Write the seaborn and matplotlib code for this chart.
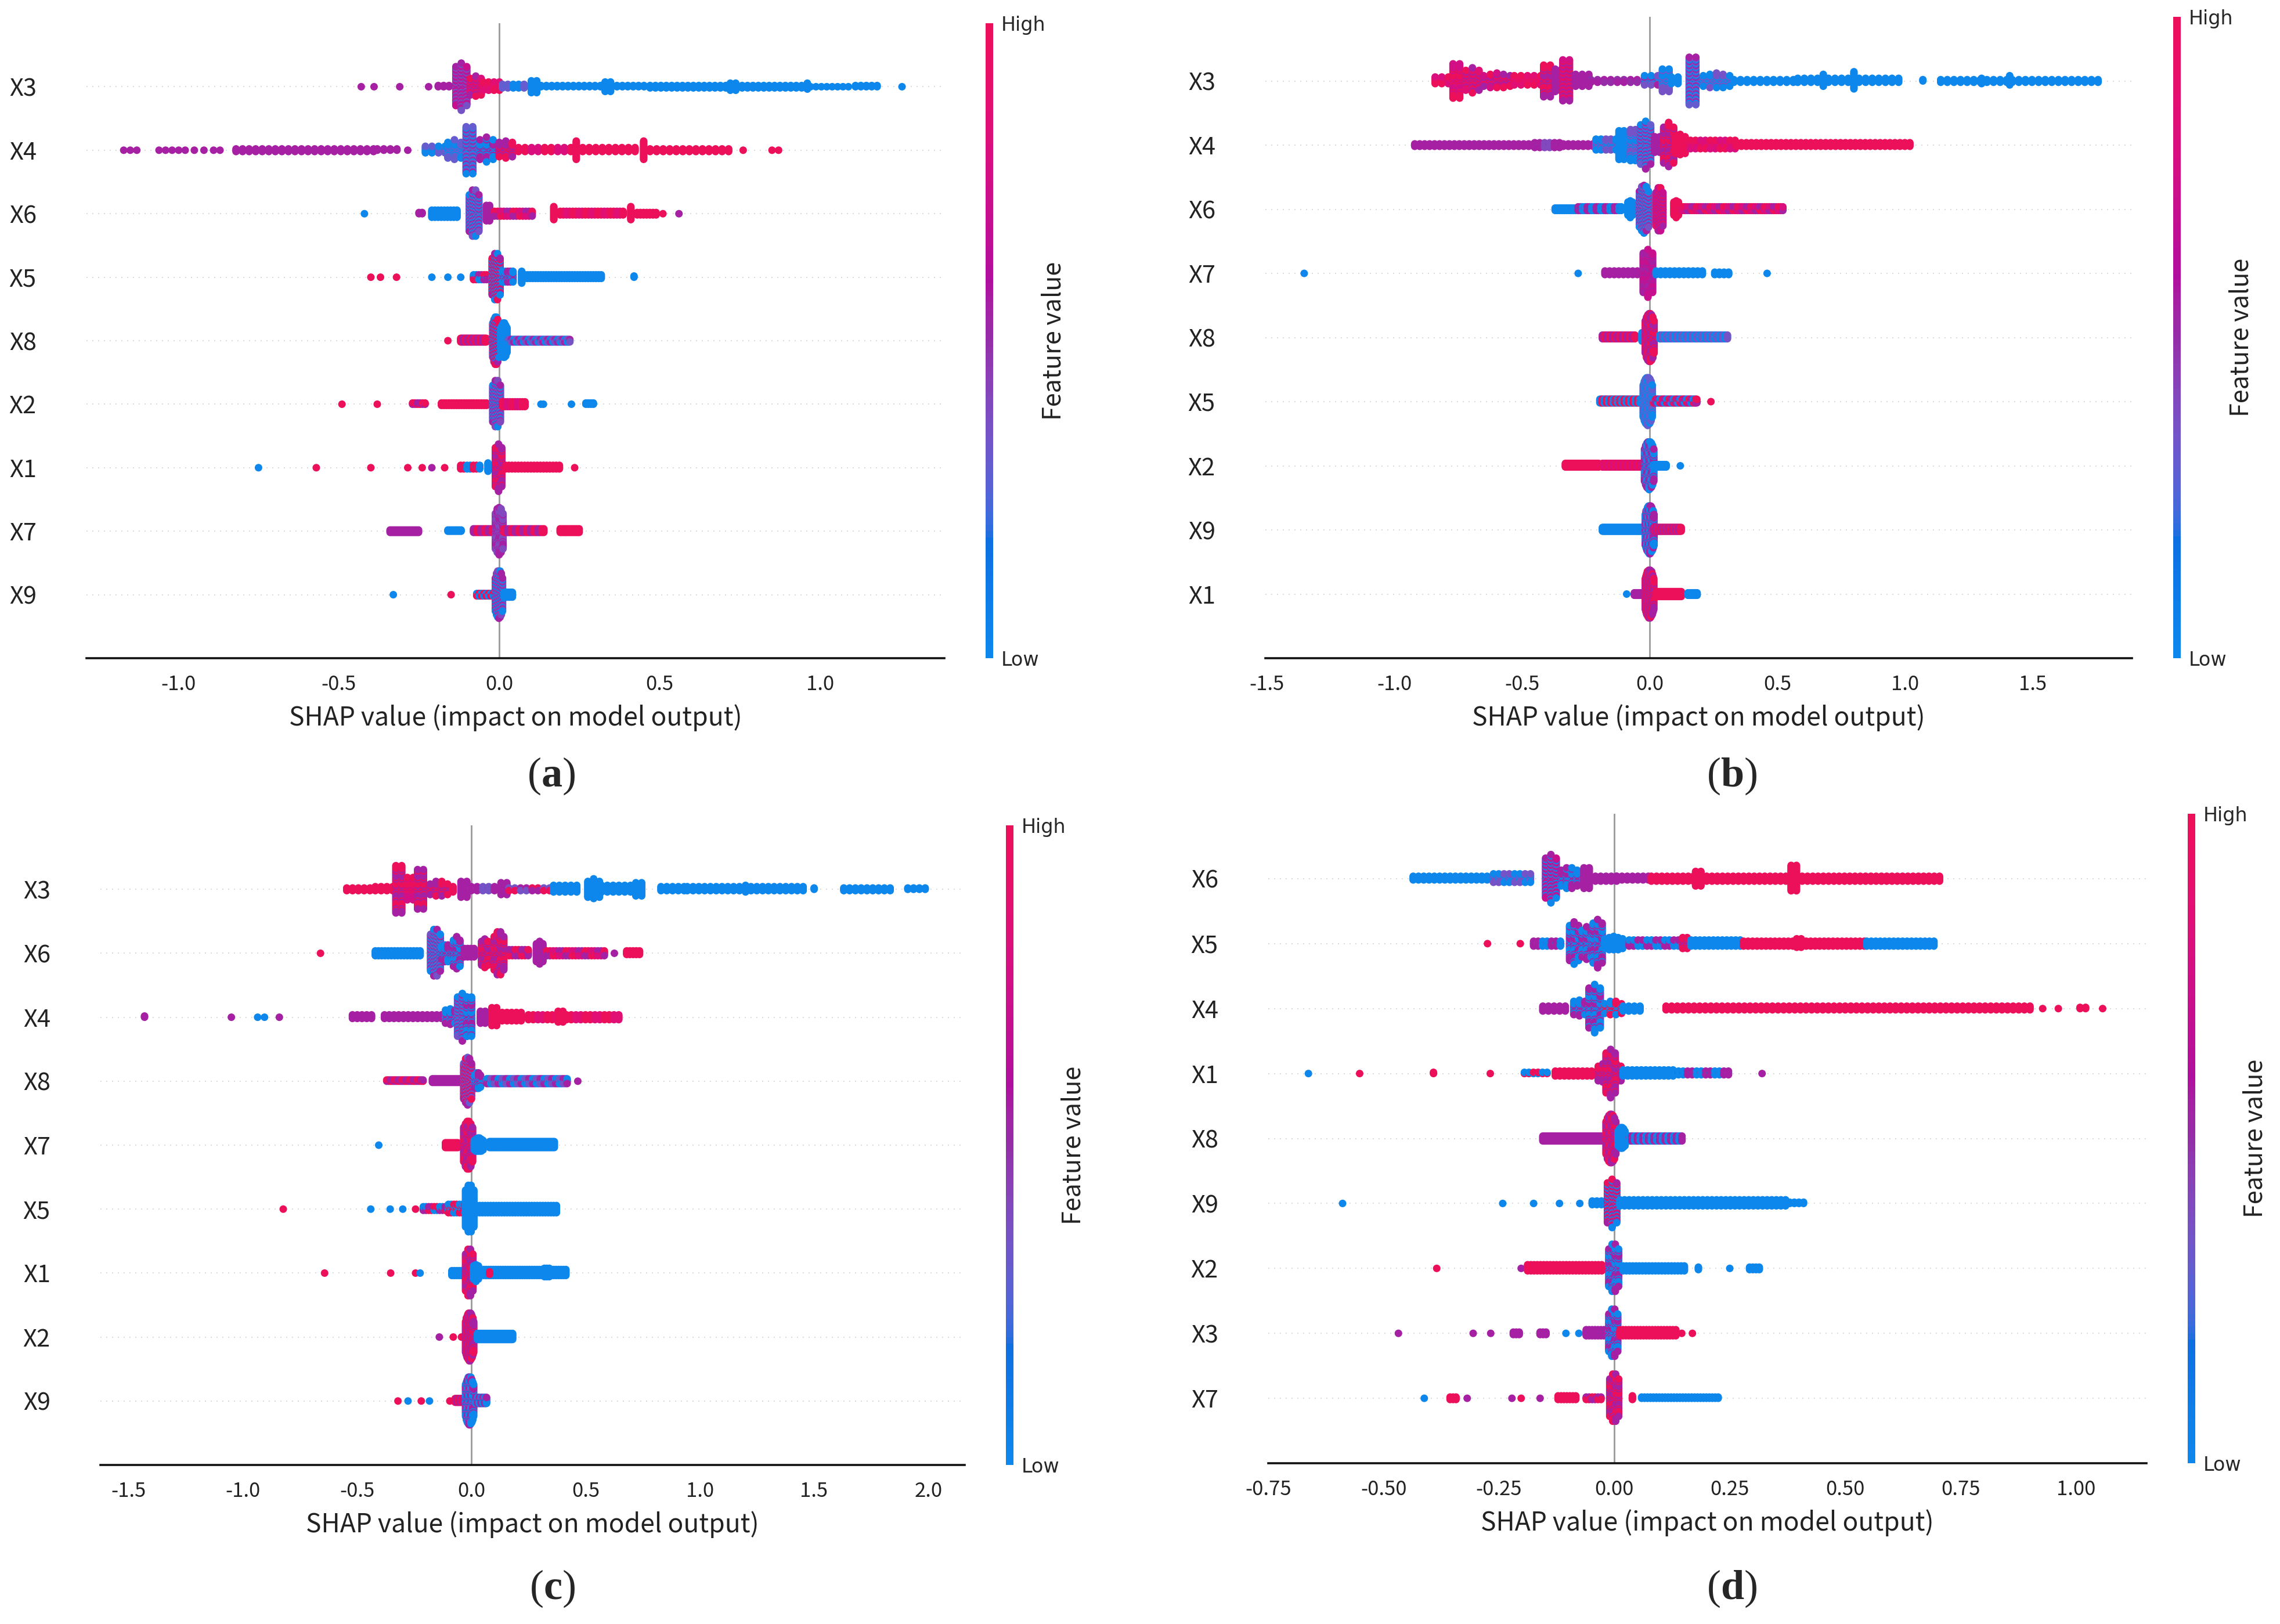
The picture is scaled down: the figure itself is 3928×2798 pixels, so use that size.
import numpy as np
import pandas as pd
import matplotlib
matplotlib.use("Agg")
import matplotlib.pyplot as plt
import seaborn as sns
from matplotlib.colors import ListedColormap, Normalize
from matplotlib.cm import ScalarMappable

# feature value colours: 0 = low (blue), 1 = high (red), in between = purple
B, P, R = 0.0, 0.55, 1.0

# each segment: (shap_start, shap_end, stack size, feature value(s))
A_FEATURES = ["X3", "X4", "X6", "X5", "X8", "X2", "X1", "X7", "X9"]
A_SEGMENTS = [
    [(-0.43, -0.43, 1, P), (-0.39, -0.39, 1, P), (-0.31, -0.31, 1, P), (-0.22, -0.22, 1, P), (-0.19, -0.16, 2, P),
     (-0.135, -0.108, 41, (P, 0.35, 0.7)), (-0.09, -0.06, 18, (0.8, R, P)), (-0.05, 0.0, 8, (R, 0.85)),
     (0.01, 0.08, 4, (0.3, B)), (0.10, 0.12, 11, B), (0.13, 0.32, 2, B), (0.33, 0.34, 9, B), (0.35, 0.45, 2, B),
     (0.47, 0.70, 3, B), (0.72, 0.73, 7, B), (0.74, 0.95, 3, B), (0.96, 0.96, 6, B), (0.97, 1.09, 1, B),
     (1.11, 1.17, 2, B), (1.255, 1.255, 1, B)],
    [(-1.17, -1.12, 1, P), (-1.06, -0.98, 1, P), (-0.95, -0.95, 1, P), (-0.92, -0.92, 1, P), (-0.89, -0.89, 1, P),
     (-0.87, -0.87, 1, P), (-0.82, -0.40, 3, P), (-0.38, -0.32, 2, P), (-0.285, -0.285, 1, P),
     (-0.23, -0.17, 6, (B, 0.3)), (-0.16, -0.11, 16, (B, 0.3)), (-0.103, -0.077, 41, (B, P, 0.3)),
     (-0.06, -0.02, 20, (B, P)), (0.0, 0.04, 14, (P, R)), (0.06, 0.22, 4, (R, 0.8)), (0.24, 0.24, 15, R),
     (0.26, 0.43, 4, R), (0.45, 0.45, 15, R), (0.47, 0.72, 3, R), (0.76, 0.76, 1, R), (0.85, 0.87, 1, R)],
    [(-0.42, -0.42, 1, B), (-0.25, -0.24, 2, P), (-0.21, -0.13, 7, B), (-0.093, -0.067, 41, (P, B, 0.35)),
     (-0.04, -0.03, 15, P), (-0.015, 0.10, 5, (R, P, 0.8)), (0.17, 0.17, 12, R), (0.19, 0.39, 4, (R, 0.85)),
     (0.41, 0.41, 12, R), (0.43, 0.49, 3, R), (0.51, 0.51, 1, R), (0.56, 0.56, 1, P)],
    [(-0.40, -0.40, 1, R), (-0.37, -0.37, 1, R), (-0.32, -0.32, 1, R), (-0.21, -0.21, 1, B), (-0.16, -0.16, 1, B),
     (-0.12, -0.12, 1, B), (-0.08, -0.04, 5, (B, R, P)), (-0.022, 0.002, 41, (P, R, B)), (0.01, 0.04, 10, (B, P)),
     (0.07, 0.07, 11, B), (0.08, 0.32, 4, B), (0.42, 0.42, 2, B)],
    [(-0.16, -0.16, 1, R), (-0.12, -0.04, 4, (R, P)), (-0.02, 0.0, 41, (R, P, B)), (0.005, 0.025, 30, B),
     (0.03, 0.22, 3, (P, 0.35, B))],
    [(-0.49, -0.49, 1, R), (-0.38, -0.38, 1, R), (-0.27, -0.23, 2, (P, R)), (-0.18, -0.04, 3, R),
     (-0.02, 0.005, 41, (P, B, 0.4)), (0.01, 0.08, 5, (R, 0.8)), (0.13, 0.14, 1, B), (0.225, 0.225, 1, B),
     (0.27, 0.29, 2, B)],
    [(-0.75, -0.75, 1, B), (-0.57, -0.57, 1, R), (-0.40, -0.40, 1, R), (-0.285, -0.285, 1, R), (-0.24, -0.24, 1, R),
     (-0.21, -0.21, 1, P), (-0.17, -0.17, 1, R), (-0.12, -0.06, 4, (R, B)), (-0.035, -0.035, 8, B),
     (-0.012, 0.012, 41, (R, P)), (0.02, 0.19, 4, R), (0.235, 0.235, 1, R)],
    [(-0.34, -0.25, 3, P), (-0.16, -0.12, 2, B), (-0.08, -0.015, 4, (P, R)), (-0.012, 0.012, 41, (P, 0.4)),
     (0.015, 0.14, 4, (R, P)), (0.19, 0.25, 4, R)],
    [(-0.33, -0.33, 1, B), (-0.15, -0.15, 1, R), (-0.07, -0.015, 3, (R, B)), (-0.012, 0.012, 41, (P, B, 0.4)),
     (0.015, 0.04, 5, B)],
]

B_FEATURES = ["X3", "X4", "X6", "X7", "X8", "X5", "X2", "X9", "X1"]
B_SEGMENTS = [
    [(-0.84, -0.78, 6, (R, 0.8)), (-0.77, -0.74, 30, (R, 0.75)), (-0.72, -0.66, 20, (R, P, 0.85)),
     (-0.65, -0.54, 12, (R, 0.75, P)), (-0.53, -0.43, 8, (R, 0.85)), (-0.415, -0.385, 28, (P, R)),
     (-0.37, -0.35, 20, P), (-0.34, -0.31, 35, (P, 0.75, R)), (-0.29, -0.25, 10, P), (-0.23, -0.04, 3, (P, 0.5)),
     (-0.02, 0.04, 8, (0.35, B, P)), (0.05, 0.075, 20, (B, 0.35)), (0.085, 0.12, 6, B), (0.155, 0.19, 41, (0.3, B, P)),
     (0.21, 0.32, 12, (B, 0.35)), (0.33, 0.57, 3, B), (0.58, 0.66, 4, B), (0.68, 0.68, 10, B), (0.70, 0.78, 4, B),
     (0.80, 0.80, 14, B), (0.82, 0.98, 4, B), (1.07, 1.07, 2, B), (1.14, 1.40, 3, B), (1.30, 1.30, 5, B),
     (1.41, 1.41, 8, B), (1.42, 1.745, 3, B)],
    [(-0.92, -0.23, 3, P), (-0.45, -0.35, 5, (P, 0.4)), (-0.21, -0.13, 10, (B, 0.35)), (-0.12, -0.095, 28, B),
     (-0.075, -0.05, 30, (B, 0.35)), (-0.035, -0.005, 41, (B, P, 0.3)), (0.02, 0.035, 15, P),
     (0.055, 0.085, 38, (R, P)), (0.10, 0.135, 18, R), (0.16, 0.33, 8, (R, 0.8)), (0.34, 1.02, 4, R)],
    [(-0.37, -0.29, 3, B), (-0.28, -0.11, 4, (P, B)), (-0.085, -0.07, 15, B), (-0.04, -0.005, 41, (B, 0.35, P)),
     (0.025, 0.055, 38, (P, R, 0.7)), (0.095, 0.115, 15, R), (0.13, 0.52, 4, (R, P, 0.8))],
    [(-1.353, -1.353, 1, B), (-0.28, -0.28, 1, B), (-0.175, -0.035, 4, P), (-0.025, 0.005, 41, (P, 0.7)),
     (0.025, 0.21, 4, B), (0.255, 0.305, 3, B), (0.46, 0.46, 1, B)],
    [(-0.185, -0.06, 4, (P, R)), (-0.03, -0.02, 8, B), (-0.017, 0.017, 41, (P, R)), (0.04, 0.305, 4, (B, 0.35))],
    [(-0.195, -0.035, 4, (B, R)), (-0.025, 0.008, 41, (B, 0.3)), (0.015, 0.185, 4, (B, P, R)), (0.24, 0.24, 1, R)],
    [(-0.33, -0.20, 4, R), (-0.185, -0.02, 4, (R, 0.8)), (-0.02, 0.014, 41, (P, B)), (0.015, 0.065, 3, B),
     (0.12, 0.12, 1, B)],
    [(-0.185, -0.02, 4, B), (-0.017, 0.017, 41, (P, B)), (0.015, 0.125, 4, (P, R))],
    [(-0.09, -0.09, 1, B), (-0.06, -0.02, 3, P), (-0.017, 0.017, 41, (P, R)), (0.025, 0.125, 5, R),
     (0.15, 0.185, 3, B)],
]

C_FEATURES = ["X3", "X6", "X4", "X8", "X7", "X5", "X1", "X2", "X9"]
C_SEGMENTS = [
    [(-0.545, -0.45, 3, R), (-0.42, -0.35, 4, R), (-0.33, -0.295, 41, (R, P)), (-0.28, -0.25, 20, (R, 0.75)),
     (-0.235, -0.20, 34, (R, P)), (-0.18, -0.11, 12, (P, R)), (-0.08, -0.08, 5, R), (-0.045, -0.025, 14, P),
     (0.0, 0.11, 4, (P, 0.35)), (0.13, 0.15, 10, P), (0.165, 0.335, 3, (P, 0.35, R)), (0.36, 0.47, 6, B),
     (0.51, 0.55, 16, B), (0.57, 0.70, 6, B), (0.72, 0.74, 12, B), (0.83, 0.92, 4, B), (0.945, 1.45, 4, B),
     (1.20, 1.20, 6, B), (1.50, 1.50, 2, B), (1.63, 1.84, 3, B), (1.91, 1.99, 2, B)],
    [(-0.66, -0.66, 1, R), (-0.42, -0.225, 5, B), (-0.178, -0.142, 41, (B, 0.35, P)), (-0.13, -0.085, 15, (B, P)),
     (-0.078, -0.046, 28, (P, B)), (-0.03, 0.013, 8, P), (0.045, 0.075, 25, (R, P)), (0.10, 0.136, 38, (R, P)),
     (0.165, 0.25, 6, (R, P)), (0.285, 0.315, 20, P), (0.33, 0.585, 5, (R, P, 0.8)), (0.626, 0.626, 1, P),
     (0.68, 0.74, 4, R)],
    [(-1.43, -1.43, 2, P), (-1.05, -1.05, 1, P), (-0.935, -0.935, 1, B), (-0.905, -0.905, 1, B), (-0.84, -0.84, 1, P),
     (-0.52, -0.43, 4, P), (-0.38, -0.14, 4, P), (-0.113, -0.065, 14, (B, P)), (-0.06, -0.025, 41, (B, P, 0.35)),
     (-0.02, 0.01, 38, (B, P)), (0.04, 0.065, 12, P), (0.09, 0.115, 18, R), (0.135, 0.22, 8, R),
     (0.25, 0.65, 5, (R, 0.85)), (0.38, 0.40, 10, R)],
    [(-0.37, -0.21, 2, (P, R)), (-0.17, -0.057, 4, P), (-0.033, 0.003, 41, (P, R, 0.3)), (0.015, 0.04, 14, (B, P)),
     (0.068, 0.415, 5, (B, P, 0.35)), (0.466, 0.466, 1, P)],
    [(-0.405, -0.405, 1, B), (-0.113, -0.057, 5, R), (-0.033, 0.003, 41, (R, P)), (0.013, 0.054, 12, B),
     (0.08, 0.36, 6, B)],
    [(-0.823, -0.823, 1, R), (-0.44, -0.44, 1, B), (-0.355, -0.355, 1, B), (-0.30, -0.30, 1, B),
     (-0.244, -0.244, 1, R), (-0.21, -0.113, 4, (B, R, P)), (-0.10, -0.03, 8, (B, R)), (-0.025, 0.01, 41, B),
     (0.013, 0.375, 7, B)],
    [(-0.642, -0.642, 1, R), (-0.353, -0.353, 1, R), (-0.244, -0.244, 1, R), (-0.224, -0.224, 1, B),
     (-0.085, -0.03, 5, B), (-0.025, 0.01, 41, (P, R)), (0.01, 0.03, 15, B), (0.054, 0.416, 6, B),
     (0.08, 0.08, 3, R), (0.32, 0.34, 8, B)],
    [(-0.14, -0.14, 1, P), (-0.079, -0.079, 1, R), (-0.043, -0.043, 1, R), (-0.025, 0.01, 41, (P, R)),
     (0.027, 0.18, 6, B)],
    [(-0.321, -0.321, 1, R), (-0.277, -0.277, 1, B), (-0.219, -0.219, 1, R), (-0.183, -0.183, 1, B),
     (-0.094, -0.094, 1, R), (-0.071, -0.029, 4, (R, P)), (-0.025, 0.01, 41, (B, P)), (0.02, 0.068, 6, (B, P))],
]

D_FEATURES = ["X6", "X5", "X4", "X1", "X8", "X9", "X2", "X3", "X7"]
D_SEGMENTS = [
    [(-0.436, -0.262, 4, B), (-0.262, -0.181, 8, (B, 0.35)), (-0.149, -0.129, 41, (P, B, 0.7)),
     (-0.115, -0.081, 18, (P, B)), (-0.066, -0.056, 20, P), (-0.041, 0.0, 5, P), (0.005, 0.072, 4, P),
     (0.08, 0.166, 5, R), (0.176, 0.188, 14, R), (0.20, 0.367, 5, R), (0.383, 0.399, 24, R), (0.407, 0.708, 5, R)],
    [(-0.275, -0.275, 1, R), (-0.204, -0.204, 1, R), (-0.175, -0.115, 5, (P, B)), (-0.097, -0.079, 36, (P, B)),
     (-0.07, -0.052, 28, (P, B)), (-0.046, -0.028, 41, (B, P)), (-0.021, 0.019, 12, B), (0.032, 0.139, 6, (P, B)),
     (0.148, 0.158, 10, (R, P)), (0.166, 0.273, 6, B), (0.28, 0.54, 5, R), (0.395, 0.405, 8, R),
     (0.547, 0.694, 5, B)],
    [(-0.155, -0.101, 5, P), (-0.088, -0.061, 14, (B, P)), (-0.055, -0.035, 41, (P, B)), (-0.021, 0.012, 12, (B, R)),
     (0.019, 0.056, 5, B), (0.112, 0.901, 4, R), (0.928, 0.928, 1, R), (0.962, 0.962, 1, R), (1.009, 1.022, 2, R),
     (1.058, 1.058, 1, R)],
    [(-0.663, -0.663, 1, B), (-0.552, -0.552, 1, R), (-0.392, -0.392, 2, R), (-0.269, -0.269, 1, R),
     (-0.195, -0.142, 2, (R, B)), (-0.128, -0.048, 5, R), (-0.035, 0.01, 18, (R, P)), (-0.018, 0.002, 41, (R, P)),
     (0.019, 0.126, 6, B), (0.139, 0.246, 4, (B, P)), (0.32, 0.32, 1, P)],
    [(-0.155, -0.028, 5, P), (-0.018, 0.002, 41, (R, P)), (0.008, 0.022, 18, B), (0.032, 0.146, 5, (B, P))],
    [(-0.589, -0.589, 1, B), (-0.242, -0.242, 1, B), (-0.175, -0.175, 1, B), (-0.119, -0.119, 1, B),
     (-0.075, -0.075, 1, B), (-0.048, -0.021, 4, B), (-0.015, 0.005, 41, (R, B, P)), (0.012, 0.37, 6, B),
     (0.37, 0.408, 2, B)],
    [(-0.385, -0.385, 1, R), (-0.202, -0.202, 1, P), (-0.188, -0.028, 6, R), (-0.012, 0.008, 41, (P, B)),
     (0.019, 0.153, 5, B), (0.182, 0.182, 3, B), (0.25, 0.25, 1, B), (0.293, 0.313, 3, B)],
    [(-0.468, -0.468, 1, P), (-0.306, -0.306, 1, P), (-0.268, -0.268, 1, P), (-0.219, -0.208, 3, P),
     (-0.161, -0.148, 3, P), (-0.105, -0.105, 1, B), (-0.077, -0.077, 1, B), (-0.061, -0.021, 6, P),
     (-0.012, 0.008, 41, (P, B)), (0.012, 0.133, 6, R), (0.146, 0.146, 1, R), (0.169, 0.169, 1, R)],
    [(-0.412, -0.412, 1, B), (-0.356, -0.342, 3, R), (-0.319, -0.319, 1, P), (-0.222, -0.222, 1, P),
     (-0.202, -0.202, 1, R), (-0.161, -0.161, 1, P), (-0.122, -0.081, 4, R), (-0.061, -0.028, 3, (R, P)),
     (-0.01, 0.01, 41, (P, R)), (0.039, 0.039, 4, R), (0.059, 0.226, 2, B)],
]

A_XTICKS = [-1.0, -0.5, 0.0, 0.5, 1.0]
B_XTICKS = [-1.5, -1.0, -0.5, 0.0, 0.5, 1.0, 1.5]
C_XTICKS = [-1.5, -1.0, -0.5, 0.0, 0.5, 1.0, 1.5, 2.0]
D_XTICKS = [-0.75, -0.50, -0.25, 0.00, 0.25, 0.50, 0.75, 1.00]

# ======================== layout ========================
W, H, DPI = 3928, 2798, 200


def shap_red_blue():
    """SHAP's red_blue colormap (LCH interpolation, darker purple middle)."""
    blue_lch = np.array([54.0, 70.0, 4.6588])
    red_lch = np.array([54.0, 90.0, 0.35470565 + 2 * np.pi])
    l_mid = 40.0
    nsteps = 100
    L = np.concatenate([np.linspace(blue_lch[0], l_mid, nsteps // 2),
                        np.linspace(l_mid, red_lch[0], nsteps // 2)])
    C = np.linspace(blue_lch[1], red_lch[1], nsteps)
    Hh = np.linspace(blue_lch[2], red_lch[2], nsteps)
    a, b = C * np.cos(Hh), C * np.sin(Hh)
    fy = (L + 16) / 116
    fx, fz = fy + a / 500, fy - b / 200

    def finv(f):
        return np.where(f > 6 / 29, f ** 3, 3 * (6 / 29) ** 2 * (f - 4 / 29))

    xyz = np.stack([0.95047 * finv(fx), finv(fy), 1.08883 * finv(fz)], axis=1)
    m = np.array([[3.2406, -1.5372, -0.4986], [-0.9689, 1.8758, 0.0415], [0.0557, -0.2040, 1.0570]])
    rgb = np.clip(xyz @ m.T, 0, None)
    rgb = np.where(rgb <= 0.0031308, 12.92 * rgb, 1.055 * rgb ** (1 / 2.4) - 0.055)
    rgb = np.clip(rgb, 0, 1)
    # the printed figure is a little washed out compared to shap's raw colours
    rgb = 0.87 * rgb + 0.13 * np.array([0.42, 0.45, 0.55])
    return ListedColormap(rgb)


CMAP = shap_red_blue()


def swarm_frame(features, segments):
    """Stack points per row the way shap's beeswarm does (layers 0,+1,-1,+2,...)."""
    recs = []
    n = len(features)
    for i, segs in enumerate(segments):
        row_y = n - 1 - i
        lo = min(s[0] for s in segs)
        hi = max(s[1] for s in segs)
        step = (hi - lo) / 100
        pts = []
        for x0, x1, h, c in segs:
            cols = c if isinstance(c, tuple) else (c,)
            xs = [x0] if x1 - x0 < step / 2 else np.arange(x0, x1 + step * 0.5, step)
            mid = (len(xs) - 1) / 2
            for j, x in enumerate(xs):
                hj = h
                if h >= 12 and len(xs) > 1:
                    d = (j - mid) / (mid + 0.5)
                    hj = max(1, int(round(h * (1 - 0.4 * d * d))))
                for k in range(hj):
                    off = np.ceil(k / 2) * ((k % 2) * 2 - 1)
                    pick = ((j // 2) * 5 + (k // 4) * 3 + (k % 3)) % len(cols)
                    pts.append((x, off, cols[pick]))
        max_off = max(abs(p[1]) for p in pts)
        scale = 0.39 / (max_off + 1)
        for x, off, v in pts:
            recs.append({"shap": x, "y": row_y + off * scale, "value": v})
    return pd.DataFrame(recs)


def draw_panel(fig, box, features, segments, xlim, xticks, fmt, letter, letter_xy):
    l, t, r, b = box
    ax = fig.add_axes([l / W, 1 - b / H, (r - l) / W, (b - t) / H])
    n = len(features)

    for y in range(n):
        ax.axhline(y, color="#cccccc", lw=0.6, dashes=(1, 5), zorder=-1)
    ax.axvline(0, color="#999999", lw=1.0, zorder=-1)

    df = swarm_frame(features, segments)
    sns.scatterplot(
        data=df, x="shap", y="y", hue="value", palette=CMAP, hue_norm=(0, 1),
        s=22, linewidth=0, edgecolor="none", legend=False, ax=ax, zorder=3,
    )

    ax.set_xlim(*xlim)
    ax.set_ylim(-1, n)
    ax.set_yticks(range(n))
    ax.set_yticklabels(features[::-1], fontsize=15)
    ax.set_xticks(xticks)
    ax.set_xticklabels([fmt.format(v) for v in xticks], fontsize=12.5)
    ax.tick_params(axis="y", length=0, pad=31, colors="#222222")
    ax.tick_params(axis="x", length=4, width=1, pad=6, colors="#222222")
    ax.set_ylabel("")
    ax.set_xlabel("SHAP value (impact on model output)", fontsize=16, labelpad=6, color="#222222")
    for side in ["top", "right", "left"]:
        ax.spines[side].set_visible(False)
    ax.spines["bottom"].set_linewidth(1.3)
    ax.spines["bottom"].set_color("#111111")

    # colour bar
    cl = r + 71
    cax = fig.add_axes([cl / W, 1 - b / H, 13 / W, (b - t) / H])
    cb = fig.colorbar(ScalarMappable(norm=Normalize(0, 1), cmap=CMAP), cax=cax, ticks=[0, 1])
    cb.set_ticklabels(["Low", "High"])
    cb.outline.set_visible(False)
    cax.tick_params(length=0, pad=5)
    for lab in cax.get_yticklabels():
        lab.set_fontfamily("DejaVu Sans")
        lab.set_fontsize(12)
    fig.text((cl + 117) / W, 1 - (t + b) / 2 / H, "Feature value", rotation=90,
             ha="center", va="center", fontsize=15.5, color="#222222")

    fig.text(letter_xy[0] / W, 1 - letter_xy[1] / H,
             r"$\mathrm{(}\mathbf{" + letter + r"}\mathrm{)}$",
             ha="center", va="center", fontsize=26)


if __name__ == "__main__":
    sns.set_style("white")
    plt.rcParams["font.family"] = ["Noto Sans CJK SC", "DejaVu Sans"]
    plt.rcParams["axes.unicode_minus"] = False
    plt.rcParams["mathtext.fontset"] = "custom"
    plt.rcParams["mathtext.rm"] = "Liberation Serif"
    plt.rcParams["mathtext.bf"] = "Liberation Serif:bold"

    fig = plt.figure(figsize=(W / DPI, H / DPI), dpi=DPI)
    draw_panel(fig, (149, 40, 1627, 1134), A_FEATURES, A_SEGMENTS, (-1.286, 1.387),
               A_XTICKS, "{:.1f}", "a", (950, 1336))
    draw_panel(fig, (2180, 29, 3673, 1134), B_FEATURES, B_SEGMENTS, (-1.505, 1.889),
               B_XTICKS, "{:.1f}", "b", (2984, 1336))
    draw_panel(fig, (173, 1422, 1662, 2524), C_FEATURES, C_SEGMENTS, (-1.623, 2.159),
               C_XTICKS, "{:.1f}", "c", (952, 2736))
    draw_panel(fig, (2185, 1402, 3698, 2521), D_FEATURES, D_SEGMENTS, (-0.747, 1.153),
               D_XTICKS, "{:.2f}", "d", (2984, 2736))
    fig.savefig("out.png", dpi=DPI, facecolor="white")
